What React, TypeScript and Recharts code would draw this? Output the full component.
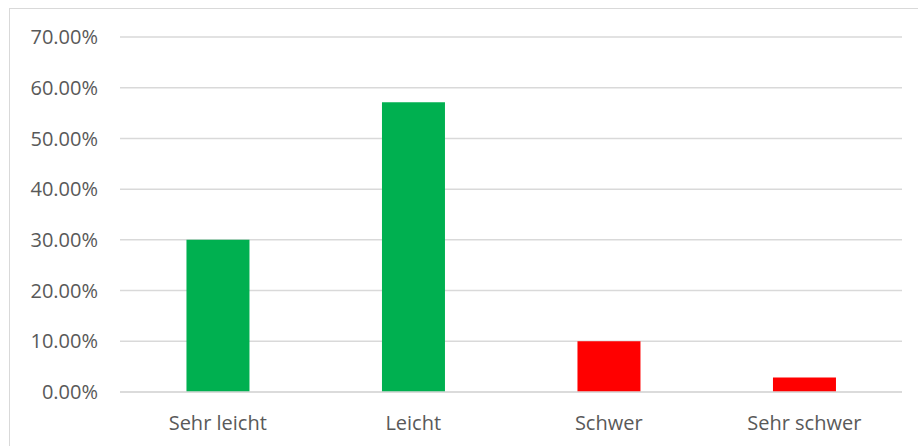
import React from 'react'
import { BarChart, Bar, XAxis, YAxis, CartesianGrid, Cell } from 'recharts'

const categories = ['Sehr leicht', 'Leicht', 'Schwer', 'Sehr schwer']
const shares = [30, 57.14, 10, 2.86]
const yTicks = [0, 10, 20, 30, 40, 50, 60, 70]
const barColors = ['#00B050', '#00B050', '#FF0000', '#FF0000']

const data = categories.map((name, i) => ({ name, value: shares[i] }))

const font = '"Open Sans", "Liberation Sans", sans-serif'

export default function App() {
  return (
    <div
      style={{
        position: 'absolute',
        left: 0,
        top: 0,
        width: 918,
        height: 446,
        background: '#fff',
        overflow: 'hidden',
        fontFamily: font,
      }}
    >
      <div
        style={{
          position: 'absolute',
          left: 9,
          top: 8,
          width: 920,
          height: 440,
          borderLeft: '1.5px solid #d9d9d9',
          borderTop: '1.5px solid #d9d9d9',
        }}
      />
      <BarChart
        width={918}
        height={446}
        data={data}
        margin={{ top: 37, right: 16, bottom: 14, left: 0 }}
        barCategoryGap="34%"
        style={{ position: 'absolute', left: 0, top: 0 }}
      >
        <CartesianGrid vertical={false} stroke="#d9d9d9" strokeWidth={1.5} />
        <XAxis
          dataKey="name"
          height={40}
          axisLine={{ stroke: '#d9d9d9', strokeWidth: 1.5 }}
          tickLine={false}
          tickSize={0}
          tickMargin={24}
          tick={{ fill: '#595959', fontSize: 20, fontFamily: font }}
        />
        <YAxis
          width={120}
          domain={[0, 70]}
          ticks={yTicks}
          axisLine={false}
          tickLine={false}
          tickSize={0}
          tickMargin={22}
          tickFormatter={(v: number) => `${v.toFixed(2)}%`}
          tick={{ fill: '#595959', fontSize: 20, fontFamily: font }}
        />
        <Bar dataKey="value" isAnimationActive={false}>
          {data.map((d, i) => (
            <Cell key={d.name} fill={barColors[i]} />
          ))}
        </Bar>
      </BarChart>
    </div>
  )
}
